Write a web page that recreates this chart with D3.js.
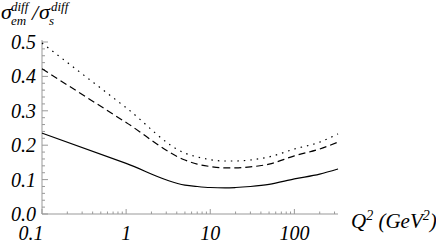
<!DOCTYPE html>
<html>
<head>
<meta charset="utf-8">
<script src="https://cdn.jsdelivr.net/npm/d3@7"></script>
<style>
  body { margin: 0; background: #fff; }
</style>
</head>
<body>
<svg id="chart" width="436" height="245"></svg>
<script>
// Q^2 sample points (GeV^2)
const q2 = [0.1, 1, 5, 7, 10, 15, 20, 30, 50, 100, 200, 330];
// ratio sigma_em / sigma_s for the three curves
const solidVals  = [0.235, 0.147, 0.084, 0.080, 0.077, 0.076, 0.077, 0.080, 0.086, 0.102, 0.116, 0.131];
const dashedVals = [0.422, 0.266, 0.157, 0.145, 0.138, 0.134, 0.134, 0.137, 0.145, 0.169, 0.189, 0.209];
const dottedVals = [0.497, 0.309, 0.177, 0.166, 0.158, 0.154, 0.154, 0.157, 0.166, 0.189, 0.209, 0.233];

const xTickValues = [0.1, 1, 10, 100];
const xTickLabels = ['0.1', '1', '10', '100'];
const yTickValues = [0, 0.1, 0.2, 0.3, 0.4, 0.5];
const yTickLabels = ['0.0', '0.1', '0.2', '0.3', '0.4', '0.5'];

const svg = d3.select('#chart')
    .attr('font-family', 'Liberation Serif')
    .attr('font-style', 'italic');
const axisColor = '#999';

const x = d3.scaleLog().domain([0.1, 330]).range([42, 338]);
const y = d3.scaleLinear().domain([0, 0.5]).range([214, 42]);

// axis lines
svg.append('line')
    .attr('x1', x(0.1)).attr('x2', x(330))
    .attr('y1', y(0)).attr('y2', y(0))
    .attr('stroke', axisColor).attr('stroke-width', 1);
svg.append('line')
    .attr('x1', x(0.1)).attr('x2', x(0.1))
    .attr('y1', y(0)).attr('y2', y(0.5) - 2)
    .attr('stroke', axisColor).attr('stroke-width', 1);

// x ticks (inside, pointing up)
const xMinor = x.ticks().filter(t => !xTickValues.some(m => Math.abs(m - t) < 1e-9));
svg.append('g').selectAll('line')
    .data(xMinor)
    .join('line')
    .attr('x1', d => x(d)).attr('x2', d => x(d))
    .attr('y1', y(0)).attr('y2', y(0) - 2.5)
    .attr('stroke', axisColor);
svg.append('g').selectAll('line')
    .data(xTickValues)
    .join('line')
    .attr('x1', d => x(d)).attr('x2', d => x(d))
    .attr('y1', y(0)).attr('y2', y(0) - 5)
    .attr('stroke', axisColor);

// y ticks (inside, pointing right)
const yMinor = d3.range(0, 0.5001, 0.02).filter(v => Math.abs(v * 10 - Math.round(v * 10)) > 1e-6);
svg.append('g').selectAll('line')
    .data(yMinor)
    .join('line')
    .attr('x1', x(0.1)).attr('x2', x(0.1) + 3)
    .attr('y1', d => y(d)).attr('y2', d => y(d))
    .attr('stroke', axisColor);
svg.append('g').selectAll('line')
    .data(yTickValues)
    .join('line')
    .attr('x1', x(0.1)).attr('x2', x(0.1) + 6)
    .attr('y1', d => y(d)).attr('y2', d => y(d))
    .attr('stroke', axisColor);

// tick labels (first one sits left of its tick, clear of the y labels)
svg.append('g').selectAll('text')
    .data(xTickValues)
    .join('text')
    .attr('x', (d, i) => x(d) - (i === 0 ? 11 : 0))
    .attr('y', 240)
    .attr('text-anchor', 'middle')
    .attr('font-size', 20)
    .text((d, i) => xTickLabels[i]);

svg.append('g').selectAll('text')
    .data(yTickValues)
    .join('text')
    .attr('x', 36)
    .attr('y', d => y(d) + 7)
    .attr('text-anchor', 'end')
    .attr('font-size', 20)
    .text((d, i) => yTickLabels[i]);

// curves
const line = d3.line()
    .x(d => x(d[0]))
    .y(d => y(d[1]))
    .curve(d3.curveMonotoneX);

const series = [
    { vals: solidVals, dash: null },
    { vals: dashedVals, dash: '7,4' },
    { vals: dottedVals, dash: '1.5,5' }
];

series.forEach(s => {
    svg.append('path')
        .datum(q2.map((q, i) => [q, s.vals[i]]))
        .attr('d', line)
        .attr('fill', 'none')
        .attr('stroke', '#000')
        .attr('stroke-width', 1.2)
        .attr('stroke-dasharray', s.dash);
});

// y-axis title: sigma_em^diff / sigma_s^diff
const title = svg.append('g');
title.append('text').attr('x', 1).attr('y', 19).attr('font-size', 22).text('σ');
title.append('text').attr('x', 11).attr('y', 11).attr('font-size', 13).text('diff');
title.append('text').attr('x', 11).attr('y', 25).attr('font-size', 13).text('em');
title.append('text').attr('x', 32).attr('y', 20).attr('font-size', 22).text('/');
title.append('text').attr('x', 39).attr('y', 19).attr('font-size', 22).text('σ');
title.append('text').attr('x', 51).attr('y', 11).attr('font-size', 13).text('diff');
title.append('text').attr('x', 49).attr('y', 25).attr('font-size', 13).text('s');

// x-axis title: Q^2 (GeV^2)
const xt = svg.append('text').attr('x', 351).attr('y', 228).attr('font-size', 21);
xt.append('tspan').text('Q');
xt.append('tspan').attr('font-size', 14).attr('dy', -8).text('2');
xt.append('tspan').attr('dy', 8).text(' (GeV');
xt.append('tspan').attr('font-size', 14).attr('dy', -8).text('2');
xt.append('tspan').attr('dy', 8).text(')');
</script>
</body>
</html>
